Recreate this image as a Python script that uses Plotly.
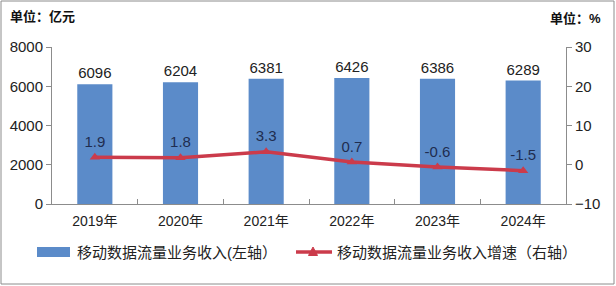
import plotly.graph_objects as go

years = ["2019年", "2020年", "2021年", "2022年", "2023年", "2024年"]
revenue = [6096, 6204, 6381, 6426, 6386, 6289]
growth = [1.9, 1.8, 3.3, 0.7, -0.6, -1.5]
left_ticks = [0, 2000, 4000, 6000, 8000]
right_ticks = [-10, 0, 10, 20, 30]
bar_name = "移动数据流量业务收入(左轴）"
line_name = "移动数据流量业务收入增速（右轴）"

W, H = 616, 286
L, R, T, B = 52, 50, 47, 82
pw, ph = W - L - R, H - T - B

def px(x):
    return (x - L) / pw

def py(y):
    return (H - B - y) / ph

font = "Liberation Sans, Noto Sans CJK SC, sans-serif"
BLUE = "#5B8BC9"
RED = "#CB3B4B"

fig = go.Figure()
fig.add_trace(go.Bar(
    x=years, y=revenue, name=bar_name,
    marker=dict(color=BLUE, line=dict(width=0)),
    width=0.41,
    text=[str(v) for v in revenue], textposition="outside",
    textfont=dict(size=15, color="#222222"), cliponaxis=False,
    yaxis="y", showlegend=False,
))
fig.add_trace(go.Scatter(
    x=years, y=growth, name=line_name,
    mode="lines+markers+text",
    line=dict(color=RED, width=3.5),
    marker=dict(symbol="triangle-up", size=9, color=RED),
    text=[str(v) for v in growth], textposition="top center",
    textfont=dict(size=15, color="#1F2D50"),
    yaxis="y2", showlegend=False,
))

fig.update_layout(
    width=W, height=H,
    margin=dict(l=L, r=R, t=T, b=B, autoexpand=False),
    paper_bgcolor="white", plot_bgcolor="white",
    font=dict(family=font, size=14, color="#222222"),
    showlegend=False,
    xaxis=dict(type="category", showline=True, linecolor="#8C8C8C", linewidth=1,
               ticks="inside", tickson="boundaries", ticklen=5, tickcolor="#8C8C8C",
               tickfont=dict(size=14), showgrid=False, zeroline=False,
               ticklabelstandoff=4),
    yaxis=dict(range=[0, 8000], tickvals=left_ticks, showline=True, linecolor="#8C8C8C",
               ticks="outside", ticklen=5, tickcolor="#8C8C8C", showgrid=False,
               zeroline=False, tickfont=dict(size=15)),
    yaxis2=dict(range=[-10, 30], tickvals=right_ticks, overlaying="y", side="right",
                showline=True, linecolor="#8C8C8C", ticks="outside", ticklen=5,
                tickcolor="#8C8C8C", showgrid=False, zeroline=False,
                tickfont=dict(size=15)),
    bargap=0.59,
)

fig.add_annotation(text="<b>单位：亿元</b>", xref="paper", yref="paper",
                   x=px(8), y=py(16), xanchor="left", yanchor="middle",
                   showarrow=False, font=dict(size=13, color="#111111"))
fig.add_annotation(text="<b>单位：%</b>", xref="paper", yref="paper",
                   x=px(603), y=py(18), xanchor="right", yanchor="middle",
                   showarrow=False, font=dict(size=13, color="#111111"))

# legend (drawn manually)
ly = 252
fig.add_shape(type="rect", xref="paper", yref="paper",
              x0=px(37), x1=px(70), y0=py(257), y1=py(247),
              line=dict(width=0), fillcolor=BLUE)
fig.add_annotation(text=bar_name, xref="paper", yref="paper",
                   x=px(75), y=py(ly), xanchor="left", yanchor="middle",
                   showarrow=False, font=dict(size=15, color="#222222"))
fig.add_shape(type="line", xref="paper", yref="paper",
              x0=px(296), x1=px(332), y0=py(ly), y1=py(ly),
              line=dict(color=RED, width=3.5))
tri = "M {},{} L {},{} L {},{} Z".format(px(308.5), py(ly + 3.5), px(317.5), py(ly + 3.5),
                                          px(313), py(ly - 5))
fig.add_shape(type="path", xref="paper", yref="paper", path=tri,
              fillcolor=RED, line=dict(color=RED, width=1))
fig.add_annotation(text=line_name, xref="paper", yref="paper",
                   x=px(335), y=py(ly), xanchor="left", yanchor="middle",
                   showarrow=False, font=dict(size=15, color="#222222"))

fig.add_shape(type="rect", xref="paper", yref="paper",
              x0=px(1), x1=px(614), y0=py(284), y1=py(1),
              line=dict(color="#8C8C8C", width=1), fillcolor="rgba(0,0,0,0)", layer="below")

fig.write_html("out.html")
